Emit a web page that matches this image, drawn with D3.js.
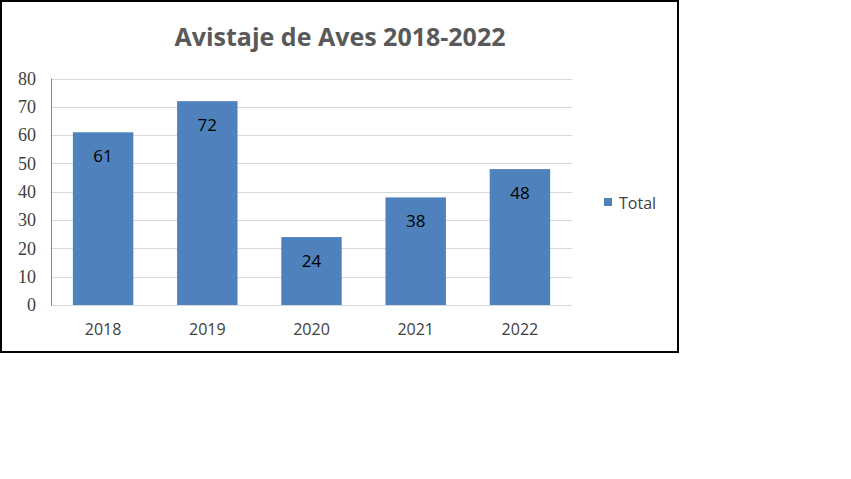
<!DOCTYPE html>
<html><head><meta charset="utf-8">
<script src="https://cdn.jsdelivr.net/npm/d3@7"></script>
<style>body{margin:0;background:#fff}</style>
</head><body>
<svg id="c" width="851" height="479"></svg>
<script>
const categories = ["2018","2019","2020","2021","2022"];
const values = [61,72,24,38,48];
const yTicks = [0,10,20,30,40,50,60,70,80];
const seriesName = "Total";
const title = "Avistaje de Aves 2018-2022";

(function(){
const svg = d3.select("#c");
svg.append("rect").attr("x",1).attr("y",1).attr("width",677).attr("height",351)
  .attr("fill","#fff").attr("stroke","#000").attr("stroke-width",2);

const pl=51, pr=572, pt=78.5, pb=305;
const x = d3.scaleBand().domain(categories).range([pl,pr]).paddingInner(0.42).paddingOuter(0.21);
const y = d3.scaleLinear().domain([0,80]).range([pb,pt]);

svg.append("g").selectAll("line").data(yTicks).join("line")
  .attr("x1",pl).attr("x2",pr).attr("y1",d=>Math.round(y(d))+0.5).attr("y2",d=>Math.round(y(d))+0.5)
  .attr("stroke","#d9d9d9").attr("stroke-width",1);

svg.append("line").attr("x1",pl+0.5).attr("x2",pl+0.5).attr("y1",pt).attr("y2",pb+0.5)
  .attr("stroke","#868686");

svg.append("g").selectAll("rect").data(values).join("rect")
  .attr("x",(d,i)=>x(categories[i])).attr("width",x.bandwidth())
  .attr("y",d=>y(d)).attr("height",d=>pb-y(d)).attr("fill","#4f81bd");

svg.append("g").selectAll("text").data(values).join("text")
  .attr("x",(d,i)=>x(categories[i])+x.bandwidth()/2).attr("y",d=>y(d)+30)
  .attr("text-anchor","middle").attr("font-family","Open Sans, sans-serif").attr("font-size",17)
  .attr("fill","#000").text(d=>d);

const yAxis = d3.axisLeft(y).tickValues(yTicks).tickSize(0).tickPadding(15);
const gy = svg.append("g").attr("transform",`translate(${pl},0)`).call(yAxis);
gy.select(".domain").remove();
gy.attr("font-family","'Liberation Serif', 'DejaVu Serif', serif");
gy.selectAll("text").style("font-family","'Liberation Serif', 'DejaVu Serif', serif").attr("font-size",18).attr("fill","#404040");

const xAxis = d3.axisBottom(x).tickSize(0).tickPadding(19);
const gx = svg.append("g").attr("transform",`translate(0,${pb})`).call(xAxis);
gx.select(".domain").remove();
gx.selectAll("text").attr("font-family","Open Sans, sans-serif").attr("font-size",16).attr("fill","#404040");

svg.append("text").attr("x",340).attr("y",46).attr("text-anchor","middle")
  .attr("font-family","Open Sans, sans-serif").attr("font-weight","bold").attr("font-size",25)
  .attr("fill","#595959").text(title);

svg.append("rect").attr("x",604).attr("y",198).attr("width",8).attr("height",8).attr("fill","#4f81bd");
svg.append("text").attr("x",619).attr("y",209).attr("font-family","Open Sans, sans-serif")
  .attr("font-size",16).attr("fill","#404040").text(seriesName);
})();
</script>
</body></html>
